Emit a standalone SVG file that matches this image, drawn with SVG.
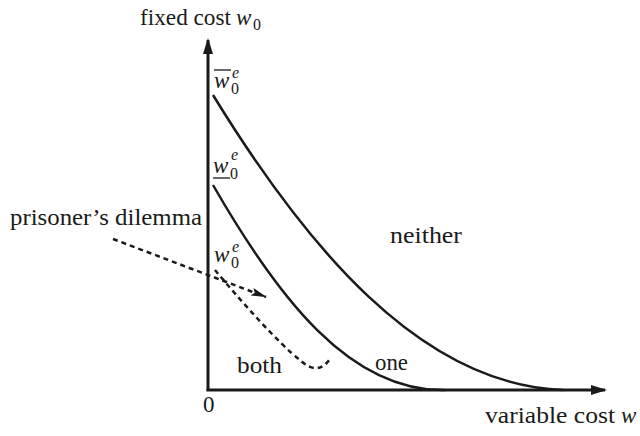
<svg xmlns="http://www.w3.org/2000/svg" width="640" height="436" viewBox="0 0 640 436">
<style>
text{font-family:"Liberation Serif","DejaVu Serif",serif;font-size:23px;fill:#1a1a1a}
.m{font-style:italic}
.s{font-size:16px;font-style:normal}
.se{font-size:16px;font-style:italic}
.ax{stroke:#1a1a1a;stroke-width:3;fill:none}
.cv{stroke:#1a1a1a;stroke-width:2.5;fill:none}
.ds{stroke:#1a1a1a;stroke-width:2.5;fill:none;stroke-dasharray:5,4}
</style>
<defs>
<marker id="ah" markerWidth="16" markerHeight="10" refX="14" refY="5" orient="auto" markerUnits="userSpaceOnUse">
<path d="M0,0 L16,5 L0,10 Z" fill="#1a1a1a"/>
</marker>
<marker id="dh" markerWidth="16" markerHeight="10" refX="15" refY="5" orient="auto" markerUnits="userSpaceOnUse">
<path d="M0,1 L16,5 L0,9 L3,5 Z" fill="#1a1a1a"/>
</marker>
</defs>
<g id="axes">
<path class="ax" d="M208,391 L208,40" marker-end="url(#ah)"/>
<path class="ax" d="M206.5,390 L605,390" marker-end="url(#ah)"/>
</g>
<g id="connectors">
<path id="upper-curve" class="cv" d="M213,95 C305,245 420,385 563,390"/>
<path id="lower-curve" class="cv" d="M213,185 C278,298 350,392 445,390"/>
<path id="dashed-curve" class="ds" d="M215,270 C240,300 280,345 300,360 C313,372 322,370 330,359"/>
<path id="pd-arrow" class="ds" d="M113,239 L266,297" marker-end="url(#dh)"/>
</g>
<g id="labels">
<text x="140" y="25" textLength="91" lengthAdjust="spacingAndGlyphs">fixed cost</text>
<text x="236" y="25" class="m">w</text><text x="253" y="30" class="s">0</text>
<text x="485" y="423" textLength="130" lengthAdjust="spacingAndGlyphs">variable cost</text>
<text x="621" y="423" class="m">w</text>
<text x="203" y="412">0</text>
<g id="w0bar"><text x="214" y="88" class="m">w</text><text x="231" y="94" class="s">0</text><text x="232" y="78" class="se">e</text><line x1="214" y1="70" x2="231" y2="70" stroke="#1a1a1a" stroke-width="1.3"/></g>
<g id="w0under"><text x="213" y="173" class="m">w</text><text x="230" y="179" class="s">0</text><text x="231" y="160" class="se">e</text><line x1="213" y1="178" x2="230" y2="178" stroke="#1a1a1a" stroke-width="1.3"/></g>
<g id="w0"><text x="214" y="262" class="m">w</text><text x="231" y="268" class="s">0</text><text x="232" y="252" class="se">e</text></g>
<text x="10" y="225" textLength="192" lengthAdjust="spacingAndGlyphs">prisoner’s dilemma</text>
<text x="390" y="243" textLength="72" lengthAdjust="spacingAndGlyphs">neither</text>
<text x="375" y="370" textLength="33" lengthAdjust="spacingAndGlyphs">one</text>
<text x="237" y="373" textLength="45" lengthAdjust="spacingAndGlyphs">both</text>
</g>
</svg>
